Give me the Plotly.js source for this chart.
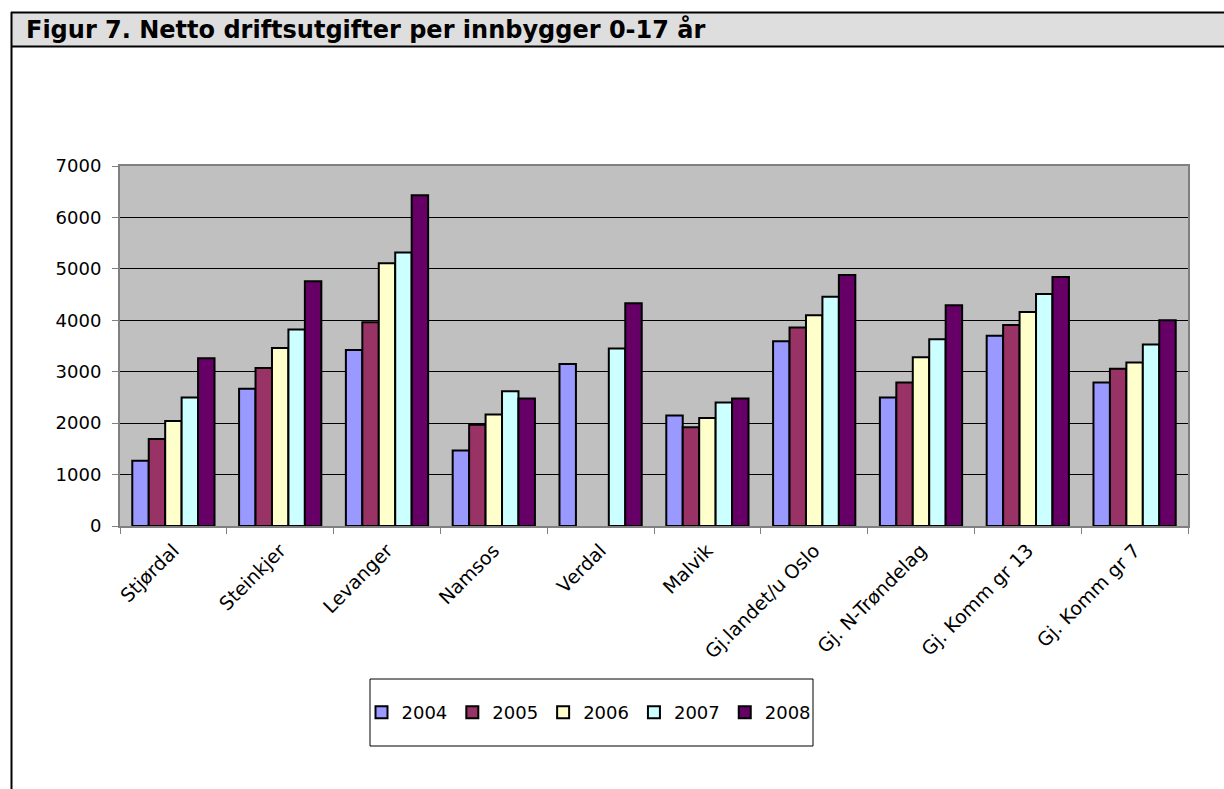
<!DOCTYPE html>
<html>
<head>
<meta charset="utf-8">
<script src="https://cdn.plot.ly/plotly-3.0.1.min.js"></script>
<style>
  body { margin: 0; background: #fff; }
  #graph { width: 1224px; height: 789px; }
</style>
</head>
<body>
<div id="graph"></div>
<script>
var kommuner = ["Stjørdal", "Steinkjer", "Levanger", "Namsos", "Verdal", "Malvik",
    "Gj.landet/u Oslo", "Gj. N-Trøndelag", "Gj. Komm gr 13", "Gj. Komm gr 7"];
var years = ["2004", "2005", "2006", "2007", "2008"];
var v2004 = [1270, 2670, 3420, 1470, 3150, 2150, 3590, 2500, 3700, 2790];
var v2005 = [1690, 3070, 3960, 1970, null, 1920, 3860, 2790, 3910, 3060];
var v2006 = [2040, 3460, 5110, 2170, null, 2100, 4100, 3280, 4160, 3180];
var v2007 = [2500, 3820, 5320, 2620, 3450, 2400, 4460, 3630, 4510, 3530];
var v2008 = [3260, 4760, 6430, 2480, 4330, 2480, 4880, 4290, 4840, 4000];
var yearColors = ["#9999ff", "#993366", "#ffffcc", "#ccffff", "#660066"];

var allValues = [v2004, v2005, v2006, v2007, v2008];
var data = [];
var i;
for (i = 0; i < years.length; i += 1) {
    data.push({
        x: kommuner,
        y: allValues[i],
        type: 'bar',
        name: years[i],
        marker: {
            color: yearColors[i],
            line: {color: '#000000', width: 2}
        }
    });
}

/* plot area in pixels: x 120-1188, y 166-526 */
function px(x) { return (x - 120) / 1068; }
function py(y) { return (526 - y) / 360; }

var textFont = 'DejaVu Sans, Arial, sans-serif';

var layout = {
    width: 1224,
    height: 789,
    margin: {l: 120, r: 36, t: 166, b: 263},
    paper_bgcolor: '#ffffff',
    plot_bgcolor: '#c0c0c0',
    font: {family: textFont, color: '#000000', size: 18},
    barmode: 'group',
    bargap: 0.23,
    bargroupgap: 0,
    showlegend: true,
    title: {
        text: '<b>Figur 7. Netto driftsutgifter per innbygger 0-17 år</b>',
        font: {family: textFont, size: 24, color: '#000000'},
        xref: 'container',
        yref: 'container',
        x: 26 / 1224,
        xanchor: 'left',
        y: 1 - 30 / 789,
        yanchor: 'middle',
        pad: {t: 0, b: 0, l: 0, r: 0}
    },
    xaxis: {
        type: 'category',
        tickangle: -45,
        tickson: 'boundaries',
        ticks: 'outside',
        ticklen: 6,
        tickcolor: '#808080',
        tickwidth: 1,
        showline: true,
        linecolor: '#808080',
        linewidth: 2,
        mirror: true,
        showgrid: false,
        ticklabelstandoff: 4,
        tickfont: {size: 19}
    },
    yaxis: {
        range: [0, 7000],
        dtick: 1000,
        ticks: 'outside',
        ticklen: 6,
        tickcolor: '#808080',
        showline: true,
        linecolor: '#808080',
        linewidth: 2,
        mirror: true,
        showgrid: true,
        gridcolor: '#000000',
        gridwidth: 1,
        zeroline: false,
        ticklabelstandoff: 7,
        tickfont: {size: 18}
    },
    legend: {
        orientation: 'h',
        x: px(589),
        xanchor: 'center',
        y: py(712.5),
        yanchor: 'middle',
        borderwidth: 0,
        bgcolor: 'rgba(0,0,0,0)',
        font: {size: 18},
        itemwidth: 30,
        tracegroupgap: 0
    },
    shapes: [
        /* title bar */
        {type: 'rect', xref: 'paper', yref: 'paper', x0: px(12), x1: px(1230), y0: py(46), y1: py(12),
            fillcolor: '#dedede', line: {color: '#000000', width: 0}, layer: 'below'},
        {type: 'line', xref: 'paper', yref: 'paper', x0: px(11), x1: px(1230), y0: py(12.5), y1: py(12.5),
            line: {color: '#000000', width: 2}},
        {type: 'line', xref: 'paper', yref: 'paper', x0: px(11), x1: px(1230), y0: py(46.5), y1: py(46.5),
            line: {color: '#000000', width: 2}},
        /* left frame */
        {type: 'line', xref: 'paper', yref: 'paper', x0: px(11.5), x1: px(11.5), y0: py(12), y1: py(800),
            line: {color: '#000000', width: 2}},
        /* legend box */
        {type: 'rect', xref: 'paper', yref: 'paper', x0: px(370), x1: px(813), y0: py(746), y1: py(679),
            fillcolor: '#ffffff', line: {color: '#000000', width: 1}, layer: 'below'}
    ]
};

Plotly.newPlot("graph", data, layout, {displayModeBar: false});
</script>
</body>
</html>
